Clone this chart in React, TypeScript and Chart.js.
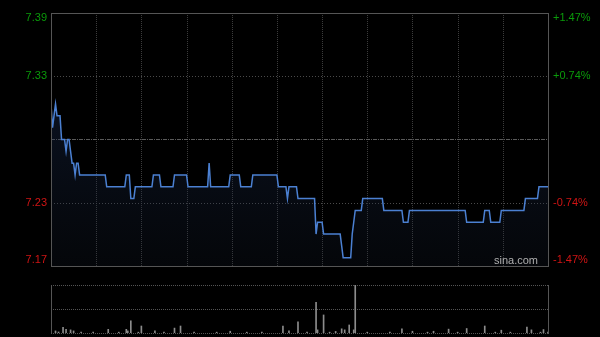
import React, { useEffect, useRef } from "react";
import { Chart, registerables } from "chart.js";

Chart.register(...registerables);

// ---- data ----
const PRICE_MIN = 7.173;
const PRICE_MAX = 7.387;
const PREV_CLOSE = 7.28;

const leftTickValues = [7.387, 7.3335, 7.2265, 7.173];
const leftTickLabels = ["7.39", "7.33", "7.23", "7.17"];
const rightTickLabels = ["+1.47%", "+0.74%", "-0.74%", "-1.47%"];
const dottedPriceLines = [7.3335, 7.2265];
const xGridMinutes = [30, 60, 90, 120, 150, 180, 210, 240, 270, 300];

const prices: number[] = [
  7.31, 7.29, 7.30, 7.31, 7.30, 7.30, 7.30, 7.28, 7.28, 7.28,
  7.27, 7.28, 7.28, 7.27, 7.26, 7.26, 7.25, 7.26, 7.26, 7.25,
  7.25, 7.25, 7.25, 7.25, 7.25, 7.25, 7.25, 7.25, 7.25, 7.25,
  7.25, 7.25, 7.25, 7.25, 7.25, 7.25, 7.25, 7.24, 7.24, 7.24,
  7.24, 7.24, 7.24, 7.24, 7.24, 7.24, 7.24, 7.24, 7.24, 7.24,
  7.25, 7.25, 7.25, 7.23, 7.23, 7.23, 7.24, 7.24, 7.24, 7.24,
  7.24, 7.24, 7.24, 7.24, 7.24, 7.24, 7.24, 7.24, 7.25, 7.25,
  7.25, 7.25, 7.25, 7.24, 7.24, 7.24, 7.24, 7.24, 7.24, 7.24,
  7.24, 7.24, 7.25, 7.25, 7.25, 7.25, 7.25, 7.25, 7.25, 7.25,
  7.25, 7.24, 7.24, 7.24, 7.24, 7.24, 7.24, 7.24, 7.24, 7.24,
  7.24, 7.24, 7.24, 7.24, 7.24, 7.26, 7.24, 7.24, 7.24, 7.24,
  7.24, 7.24, 7.24, 7.24, 7.24, 7.24, 7.24, 7.24, 7.24, 7.25,
  7.25, 7.25, 7.25, 7.25, 7.25, 7.25, 7.24, 7.24, 7.24, 7.24,
  7.24, 7.24, 7.24, 7.24, 7.25, 7.25, 7.25, 7.25, 7.25, 7.25,
  7.25, 7.25, 7.25, 7.25, 7.25, 7.25, 7.25, 7.25, 7.25, 7.25,
  7.25, 7.24, 7.24, 7.24, 7.24, 7.24, 7.24, 7.23, 7.24, 7.24,
  7.24, 7.24, 7.24, 7.24, 7.23, 7.23, 7.23, 7.23, 7.23, 7.23,
  7.23, 7.23, 7.23, 7.23, 7.23, 7.23, 7.20, 7.21, 7.21, 7.21,
  7.21, 7.20, 7.20, 7.20, 7.20, 7.20, 7.20, 7.20, 7.20, 7.20,
  7.20, 7.20, 7.20, 7.19, 7.18, 7.18, 7.18, 7.18, 7.18, 7.18,
  7.20, 7.21, 7.22, 7.22, 7.22, 7.22, 7.22, 7.23, 7.23, 7.23,
  7.23, 7.23, 7.23, 7.23, 7.23, 7.23, 7.23, 7.23, 7.23, 7.23,
  7.23, 7.22, 7.22, 7.22, 7.22, 7.22, 7.22, 7.22, 7.22, 7.22,
  7.22, 7.22, 7.22, 7.22, 7.21, 7.21, 7.21, 7.21, 7.22, 7.22,
  7.22, 7.22, 7.22, 7.22, 7.22, 7.22, 7.22, 7.22, 7.22, 7.22,
  7.22, 7.22, 7.22, 7.22, 7.22, 7.22, 7.22, 7.22, 7.22, 7.22,
  7.22, 7.22, 7.22, 7.22, 7.22, 7.22, 7.22, 7.22, 7.22, 7.22,
  7.22, 7.22, 7.22, 7.22, 7.22, 7.22, 7.21, 7.21, 7.21, 7.21,
  7.21, 7.21, 7.21, 7.21, 7.21, 7.21, 7.21, 7.21, 7.22, 7.22,
  7.22, 7.22, 7.21, 7.21, 7.21, 7.21, 7.21, 7.21, 7.21, 7.22,
  7.22, 7.22, 7.22, 7.22, 7.22, 7.22, 7.22, 7.22, 7.22, 7.22,
  7.22, 7.22, 7.22, 7.22, 7.22, 7.23, 7.23, 7.23, 7.23, 7.23,
  7.23, 7.23, 7.23, 7.23, 7.24, 7.24, 7.24, 7.24, 7.24, 7.24,
  7.24,
];

// minute index of each price point (0 = 09:30)
const minuteIndex: number[] = prices.map((_, i) => i);

// volume bars (minute index, volume)
const volMinutes = [
  3, 5, 8, 10, 13, 15, 20, 28, 38, 45, 50, 51, 53, 58, 60, 69, 75, 82, 86, 95,
  110, 119, 130, 140, 154, 158, 164, 170, 176, 177, 181, 185, 189, 193, 195, 198,
  201, 202, 210, 225, 233, 240, 250, 254, 264, 270, 276, 288, 295, 299, 305, 316,
  319, 325, 327, 330,
];
const volValues = [
  20, 10, 55, 35, 30, 20, 8, 8, 35, 8, 35, 20, 117, 8, 67, 20, 8, 47, 67, 8,
  8, 17, 8, 8, 67, 20, 107, 8, 293, 30, 173, 8, 15, 40, 30, 77,
  30, 460, 8, 8, 40, 17, 8, 17, 37, 8, 43, 67, 8, 27, 8, 57,
  30, 8, 33, 10,
];
const VOL_MAX = 460;

const FONT = "11px 'Liberation Sans', Arial, sans-serif";
const GREEN = "#0a9a0a";
const RED = "#d01414";

const mainDecor = {
  id: "mainDecor",
  beforeDatasetsDraw(chart: any) {
    const { ctx, chartArea, scales } = chart;
    const { left, right, top, bottom } = chartArea;
    const x = scales.x;
    const y = scales.y;
    ctx.save();
    ctx.lineWidth = 1;
    // vertical dotted lines
    ctx.strokeStyle = "#3c3c3c";
    ctx.setLineDash([1, 1]);
    for (const m of xGridMinutes) {
      const px = Math.round(x.getPixelForValue(m)) + 0.5;
      ctx.beginPath();
      ctx.moveTo(px, top);
      ctx.lineTo(px, bottom);
      ctx.stroke();
    }
    // horizontal dotted lines
    ctx.strokeStyle = "#4a4a4a";
    ctx.setLineDash([1, 2]);
    for (const v of dottedPriceLines) {
      const py = Math.round(y.getPixelForValue(v)) + 0.5;
      ctx.beginPath();
      ctx.moveTo(left, py);
      ctx.lineTo(right, py);
      ctx.stroke();
    }
    // previous close dash-dot line
    ctx.strokeStyle = "#5a5a5a";
    ctx.setLineDash([4, 1, 1, 1]);
    const pc = Math.round(y.getPixelForValue(PREV_CLOSE)) + 0.5;
    ctx.beginPath();
    ctx.moveTo(left, pc);
    ctx.lineTo(right, pc);
    ctx.stroke();
    ctx.restore();
  },
  afterDraw(chart: any) {
    const { ctx, chartArea, scales } = chart;
    const { left, right, top, bottom } = chartArea;
    const y = scales.y;
    ctx.save();
    ctx.strokeStyle = "#555555";
    ctx.lineWidth = 1;
    ctx.setLineDash([]);
    ctx.strokeRect(left + 0.5, top + 0.5, right - left, bottom - top);

    ctx.font = FONT;
    ctx.textBaseline = "middle";
    leftTickValues.forEach((v, i) => {
      let py = y.getPixelForValue(v);
      if (i === 0) py += 5;
      if (i === leftTickValues.length - 1) py -= 6;
      const color = v > PREV_CLOSE ? GREEN : RED;
      ctx.fillStyle = color;
      ctx.textAlign = "right";
      ctx.fillText(leftTickLabels[i], left - 4, py);
      ctx.textAlign = "left";
      ctx.fillText(rightTickLabels[i], right + 5, py);
    });

    ctx.fillStyle = "#b0b0b0";
    ctx.textAlign = "right";
    ctx.fillText("sina.com", right - 10, bottom - 5);
    ctx.restore();
  },
};

const volDecor = {
  id: "volDecor",
  beforeDatasetsDraw(chart: any) {
    const { ctx, chartArea, scales } = chart;
    const { left, right, top, bottom } = chartArea;
    const y = scales.y;
    ctx.save();
    ctx.lineWidth = 1;
    ctx.strokeStyle = "#555555";
    ctx.setLineDash([1, 1]);
    for (const v of [VOL_MAX, VOL_MAX / 2, 0]) {
      const py = Math.round(y.getPixelForValue(v)) + 0.5;
      ctx.beginPath();
      ctx.moveTo(left, py);
      ctx.lineTo(right, py);
      ctx.stroke();
    }
    ctx.setLineDash([]);
    ctx.strokeStyle = "#555555";
    ctx.beginPath();
    ctx.moveTo(left + 0.5, top);
    ctx.lineTo(left + 0.5, bottom + 1);
    ctx.moveTo(right + 0.5, top);
    ctx.lineTo(right + 0.5, bottom + 1);
    ctx.stroke();
    ctx.restore();
  },
};

export default function App() {
  const mainRef = useRef<HTMLCanvasElement | null>(null);
  const volRef = useRef<HTMLCanvasElement | null>(null);

  useEffect(() => {
    if (!mainRef.current || !volRef.current) return;
    const main = new Chart(mainRef.current, {
      type: "line",
      data: {
        labels: minuteIndex,
        datasets: [
          {
            data: prices,
            borderColor: "#4b80d2",
            borderWidth: 1.5,
            pointRadius: 0,
            tension: 0,
            fill: "start",
            backgroundColor: (ctx: any) => {
              const ca = ctx.chart.chartArea;
              if (!ca) return "rgba(20,35,60,0.3)";
              const g = ctx.chart.ctx.createLinearGradient(0, ca.top + 80, 0, ca.bottom);
              g.addColorStop(0, "rgba(25,45,85,0.40)");
              g.addColorStop(1, "rgba(25,35,55,0.18)");
              return g;
            },
          },
        ],
      },
      options: {
        animation: false,
        responsive: false,
        layout: { padding: { left: 51, right: 52, top: 13, bottom: 14 } },
        plugins: { legend: { display: false }, tooltip: { enabled: false } },
        scales: {
          x: { type: "linear", min: 0, max: 330, display: false },
          y: { min: PRICE_MIN, max: PRICE_MAX, display: false },
        },
      },
      plugins: [mainDecor],
    });

    const vol = new Chart(volRef.current, {
      type: "bar",
      data: {
        datasets: [
          {
            data: volMinutes.map((m, i) => ({ x: m, y: volValues[i] })),
            backgroundColor: "#8c8c8c",
            barThickness: 1,
          },
        ],
      },
      options: {
        animation: false,
        responsive: false,
        layout: { padding: { left: 51, right: 52, top: 5, bottom: 4 } },
        plugins: { legend: { display: false }, tooltip: { enabled: false } },
        scales: {
          x: { type: "linear", min: 0, max: 330, display: false, offset: false },
          y: { min: 0, max: VOL_MAX, display: false },
        },
      },
      plugins: [volDecor],
    });

    return () => {
      main.destroy();
      vol.destroy();
    };
  }, []);

  return (
    <div style={{ position: "fixed", left: 0, top: 0, width: 600, height: 337, background: "#000", overflow: "hidden" }}>
      <canvas ref={mainRef} width={600} height={280} style={{ position: "absolute", left: 0, top: 0, width: 600, height: 280 }} />
      <canvas ref={volRef} width={600} height={57} style={{ position: "absolute", left: 0, top: 280, width: 600, height: 57 }} />
    </div>
  );
}
